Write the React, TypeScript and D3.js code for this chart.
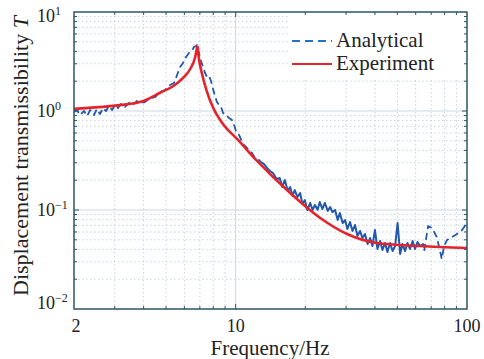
import React, { useRef, useEffect } from 'react'
import * as d3 from 'd3'

// Experiment (red, solid)
const expFreq = [2.0, 2.86, 3.86, 4.71, 5.38, 5.94, 6.35, 6.67, 6.83, 6.96, 7.13, 7.49, 8.0, 8.81, 10.14, 12.37, 17.2, 23.2, 30.3, 40.8, 62.7, 100]
const expT = [1.05, 1.12, 1.23, 1.53, 1.79, 2.17, 2.64, 3.45, 4.54, 3.2, 2.45, 1.6, 1.07, 0.739, 0.522, 0.313, 0.1485, 0.083, 0.0572, 0.0464, 0.0433, 0.0413]
const expPeakIndex = 8

// Analytical (blue, dashed)
const anaFreq = [
  2.0, 2.06, 2.12, 2.21, 2.28, 2.35, 2.44, 2.51, 2.59, 2.67, 2.75, 2.83, 2.92, 3.01, 3.1, 3.19, 3.32, 3.46, 3.6, 3.74,
  3.86, 4.05, 4.26, 4.48, 4.71, 4.95, 5.2, 5.41, 5.58, 5.75, 5.92, 6.1, 6.28, 6.47, 6.6, 6.74, 6.8,
  6.94, 7.08, 7.22, 7.37, 7.52, 7.67, 7.82, 7.98, 8.14, 8.3, 8.47, 8.64, 8.82, 9.08, 9.36, 9.64, 9.84, 10.03, 10.23,
  10.44, 10.76, 11.08, 11.42, 11.76, 12.12, 12.49, 12.87, 13.26, 13.66, 14.07, 14.5, 14.94, 15.24,
  15.5, 15.9, 16.3, 16.8, 17.2, 17.6, 18.0, 18.5, 19.0, 19.4, 19.9, 20.4, 21.0, 21.5, 22.0, 22.6, 23.1, 23.7, 24.3,
  25.0, 25.6, 26.2, 26.9, 27.6, 28.2, 29.0, 29.7, 30.4, 31.2, 32.0, 32.8, 33.6, 34.5, 35.3, 36.2, 37.2, 38.1, 39.0,
  40.0, 41.0, 42.1, 43.1, 44.2, 45.3, 46.5, 47.7, 48.9, 50.1, 51.4, 52.6, 54.0, 55.3, 56.7, 58.2, 59.6, 61.1, 62.7,
  64.6, 65.3, 67.9, 70.6, 74.0, 76.1, 77.8, 79.6, 82.0, 86.1, 90.6, 95.2, 100
]
const anaT = [
  0.977, 1.023, 0.911, 1.0, 0.89, 1.023, 0.911, 1.047, 0.933, 1.072, 1.0, 1.123, 1.023, 1.15, 1.072, 1.177, 1.1, 1.205, 1.15, 1.262,
  1.2, 1.23, 1.35, 1.38, 1.56, 1.63, 1.83, 1.92, 2.31, 2.78, 3.05, 3.51, 3.85, 4.04, 4.43, 4.54, 4.64,
  3.85, 3.2, 2.78, 2.42, 2.21, 2.26, 2.01, 1.67, 1.42, 1.23, 1.15, 1.1, 0.955, 0.911, 0.85, 0.811, 0.722, 0.628, 0.6,
  0.546, 0.464, 0.433, 0.404, 0.377, 0.335, 0.328, 0.305, 0.291, 0.266, 0.248, 0.236, 0.21, 0.206,
  0.2105, 0.1707, 0.201, 0.1555, 0.1707, 0.1385, 0.159, 0.1353, 0.1485, 0.115, 0.1262, 0.1, 0.1177, 0.1, 0.1125, 0.1005, 0.1205, 0.1024, 0.1177,
  0.098, 0.1072, 0.095, 0.1, 0.0792, 0.0933, 0.0739, 0.0792, 0.0643, 0.0756, 0.0614, 0.0705, 0.0546, 0.0614, 0.0521, 0.0573, 0.0454, 0.0521, 0.0433,
  0.0628, 0.0404, 0.0486, 0.0395, 0.0464, 0.0376, 0.0464, 0.0385, 0.0433, 0.0739, 0.036, 0.0454, 0.0385, 0.0464, 0.0404, 0.0486, 0.0404, 0.0475, 0.0433,
  0.0454, 0.0385, 0.0689, 0.0658, 0.0534, 0.0404, 0.032, 0.0433, 0.0498, 0.0534, 0.0573, 0.0628, 0.0739
]
// the dense, noisy stretch of the analytical record reads as a solid band
const anaDenseFrom = 12.87
const anaDenseTo = 62.7

const xTickValues = [2, 10, 100]
const xTickLabels = ['2', '10', '100']
const yTickValues = [10, 1, 0.1, 0.01]
const yTickExponents = ['1', '0', '\u22121', '\u22122']
const legendLabels = ['Analytical', 'Experiment']

const BLUE = '#2158ae'
const RED = '#e3242b'
const FRAME = '#2d5564'

export default function App() {
  const ref = useRef<SVGSVGElement>(null)
  const width = 484
  const height = 359
  const plot = { left: 74, right: 467, top: 12, bottom: 309 }

  useEffect(() => {
    const svg = d3.select(ref.current)
    svg.selectAll('*').remove()

    const x = d3.scaleLog().domain([2, 100]).range([plot.left, plot.right])
    const y = d3.scaleLog().domain([0.01, 10]).range([plot.bottom, plot.top])

    svg.append('rect').attr('width', width).attr('height', height).attr('fill', '#fff')

    // minor / major positions
    const xMinor: number[] = []
    for (const dec of [1, 10]) for (let k = 1; k <= 9; k++) {
      const v = k * dec
      if (v > 2 && v < 100 && v !== 10) xMinor.push(v)
    }
    const yMinor: number[] = []
    for (const dec of [0.01, 0.1, 1]) for (let k = 2; k <= 9; k++) yMinor.push(k * dec)

    const grid = svg.append('g')
    grid.selectAll('.xm').data(xMinor).join('line')
      .attr('x1', (d) => x(d)).attr('x2', (d) => x(d))
      .attr('y1', plot.top).attr('y2', plot.bottom)
      .attr('stroke', '#b9cadb').attr('stroke-width', 0.8).attr('stroke-dasharray', '1.5,2.5')
    grid.selectAll('.ym').data(yMinor).join('line')
      .attr('y1', (d) => y(d)).attr('y2', (d) => y(d))
      .attr('x1', plot.left).attr('x2', plot.right)
      .attr('stroke', '#b9cadb').attr('stroke-width', 0.8).attr('stroke-dasharray', '1.5,2.5')
    grid.append('line')
      .attr('x1', x(10)).attr('x2', x(10)).attr('y1', plot.top).attr('y2', plot.bottom)
      .attr('stroke', '#c9d7e4').attr('stroke-width', 1)
    grid.selectAll('.yM').data([1, 0.1]).join('line')
      .attr('y1', (d) => y(d)).attr('y2', (d) => y(d))
      .attr('x1', plot.left).attr('x2', plot.right)
      .attr('stroke', '#c9d7e4').attr('stroke-width', 1)

    // legend background hides grid
    svg.append('rect')
      .attr('x', 288).attr('y', plot.top + 1).attr('width', plot.right - 289).attr('height', 66)
      .attr('fill', '#fff')

    // ticks inside on all four sides
    const ticks = svg.append('g').attr('stroke', FRAME).attr('stroke-width', 1)
    const xAll = xMinor.concat([10])
    xAll.forEach((v) => {
      const len = v === 10 ? 5 : 3
      ticks.append('line').attr('x1', x(v)).attr('x2', x(v)).attr('y1', plot.bottom).attr('y2', plot.bottom - len)
      ticks.append('line').attr('x1', x(v)).attr('x2', x(v)).attr('y1', plot.top).attr('y2', plot.top + len)
    })
    const yAll = yMinor.concat([1, 0.1])
    yAll.forEach((v) => {
      const len = v === 1 || v === 0.1 ? 5 : 3
      ticks.append('line').attr('y1', y(v)).attr('y2', y(v)).attr('x1', plot.left).attr('x2', plot.left + len)
      ticks.append('line').attr('y1', y(v)).attr('y2', y(v)).attr('x1', plot.right).attr('x2', plot.right - len)
    })

    const line = d3.line<[number, number]>()
      .x((d) => x(d[0]))
      .y((d) => y(d[1]))

    // analytical
    const ana: [number, number][] = anaFreq.map((f, i) => [f, anaT[i]])
    const pieces = [
      { pts: ana.filter((d) => d[0] <= anaDenseFrom), dash: '7,4' },
      { pts: ana.filter((d) => d[0] >= anaDenseFrom && d[0] <= anaDenseTo), dash: null },
      { pts: ana.filter((d) => d[0] >= anaDenseTo), dash: '7,4' },
    ]
    pieces.forEach((p) => {
      svg.append('path')
        .attr('d', line(p.pts))
        .attr('fill', 'none').attr('stroke', BLUE).attr('stroke-width', p.dash ? 1.8 : 2)
        .attr('stroke-dasharray', p.dash).attr('stroke-linejoin', 'round')
    })

    // experiment: two monotone pieces meeting in the resonance cusp
    const exp: [number, number][] = expFreq.map((f, i) => [f, expT[i]])
    const smooth = d3.line<[number, number]>().x((d) => x(d[0])).y((d) => y(d[1])).curve(d3.curveMonotoneX)
    ;[exp.slice(0, expPeakIndex + 1), exp.slice(expPeakIndex)].forEach((part) => {
      svg.append('path')
        .attr('d', smooth(part))
        .attr('fill', 'none').attr('stroke', RED).attr('stroke-width', 2.6)
        .attr('stroke-linejoin', 'round')
    })

    // frame
    svg.append('rect')
      .attr('x', plot.left).attr('y', plot.top)
      .attr('width', plot.right - plot.left).attr('height', plot.bottom - plot.top)
      .attr('fill', 'none').attr('stroke', FRAME).attr('stroke-width', 1.5)

    const font = '"Liberation Serif", "Times New Roman", serif'

    // x tick labels
    svg.append('g').selectAll('text').data(xTickValues).join('text')
      .attr('x', (d) => x(d) + (d === 2 ? 2 : 0)).attr('y', 332)
      .attr('text-anchor', 'middle')
      .attr('font-family', font).attr('font-size', 18).attr('fill', '#222')
      .text((d, i) => xTickLabels[i])

    // y tick labels 10^n
    yTickValues.forEach((v, i) => {
      const base = Math.min(Math.max(y(v) + 6, 22), 309)
      const t = svg.append('text')
        .attr('x', 37).attr('y', base)
        .attr('font-family', font).attr('font-size', 18).attr('fill', '#222')
      t.append('tspan').text('10')
      t.append('tspan').attr('dy', -7).attr('font-size', 12).text(yTickExponents[i])
    })

    // axis titles
    svg.append('text')
      .attr('x', 270).attr('y', 355)
      .attr('text-anchor', 'middle')
      .attr('font-family', font).attr('font-size', 21).attr('fill', '#222')
      .text('Frequency/Hz')

    const yt = svg.append('text')
      .attr('transform', 'translate(28,156) rotate(-90)')
      .attr('text-anchor', 'middle')
      .attr('font-family', font).attr('font-size', 22).attr('fill', '#222')
    yt.append('tspan').text('Displacement transmissibility ')
    yt.append('tspan').attr('font-style', 'italic').text('T')

    // legend
    const lg = svg.append('g')
    legendLabels.forEach((label, i) => {
      const ly = 41 + i * 23
      lg.append('line')
        .attr('x1', 292).attr('x2', 332).attr('y1', ly).attr('y2', ly)
        .attr('stroke', i === 0 ? '#1f74c8' : RED).attr('stroke-width', i === 0 ? 1.8 : 2.2)
        .attr('stroke-dasharray', i === 0 ? '8,5' : null)
      lg.append('text')
        .attr('x', 336).attr('y', ly + 6)
        .attr('font-family', font).attr('font-size', 21).attr('fill', '#222')
        .text(label)
    })
  }, [])

  return (
    <svg ref={ref} width={width} height={height} style={{ position: 'absolute', left: 0, top: 0 }}></svg>
  )
}
